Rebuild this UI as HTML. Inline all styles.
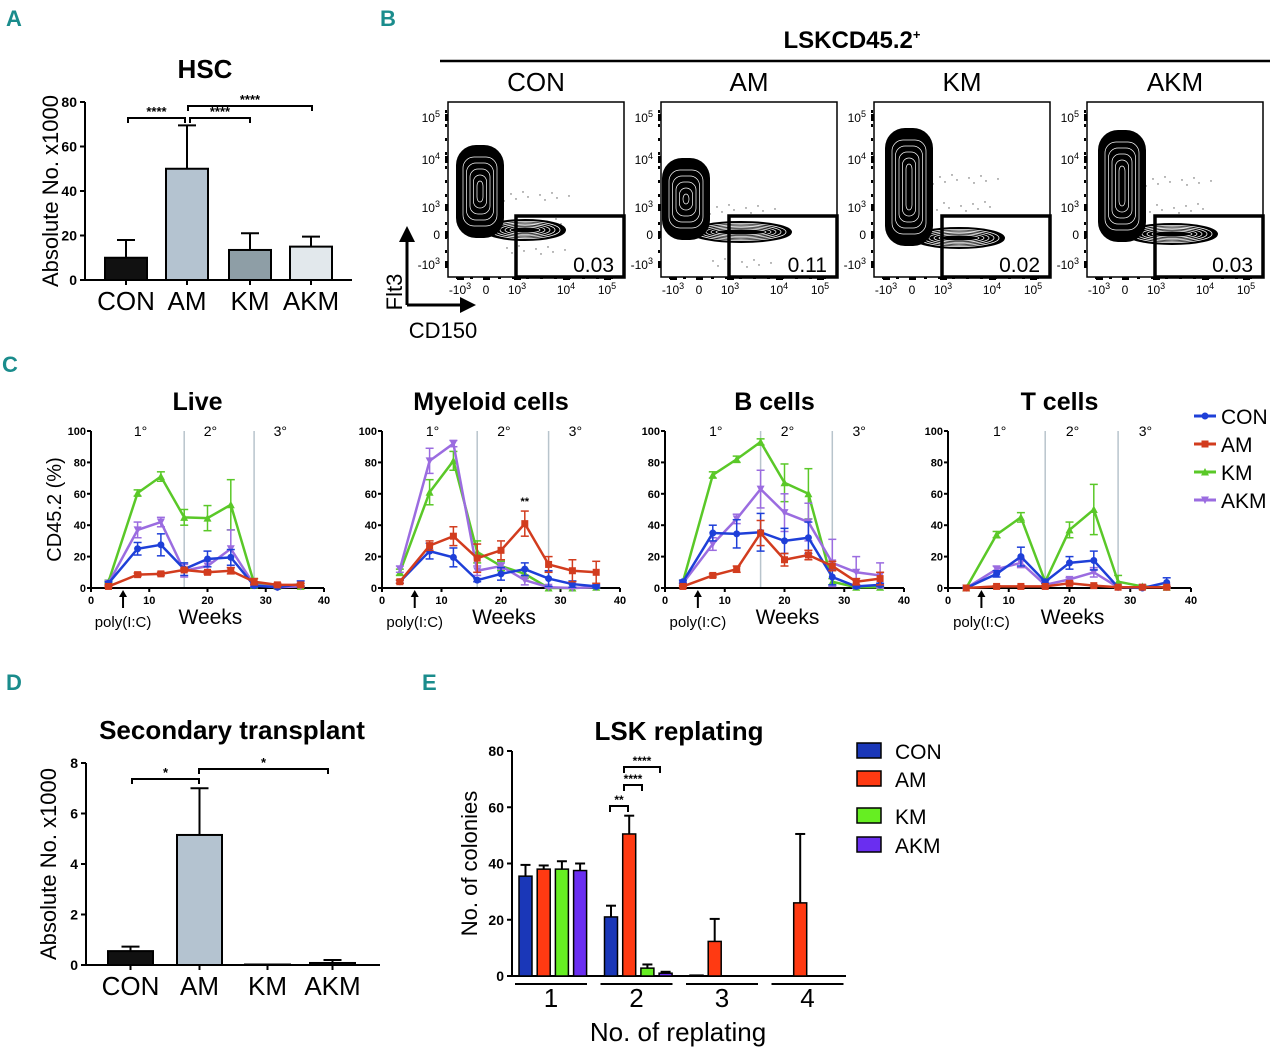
<!DOCTYPE html>
<html><head><meta charset="utf-8"><style>
html,body{margin:0;padding:0;background:#fff;}
svg{display:block;font-family:"Liberation Sans",sans-serif;}
.pl{font-family:"Liberation Sans",sans-serif;font-weight:bold;fill:#1a8c8c;font-size:22px;}
</style></head><body>
<svg id="fig" width="1280" height="1053" viewBox="0 0 1280 1053" xmlns="http://www.w3.org/2000/svg">
<text class="pl" x="6" y="26">A</text>
<text class="pl" x="380" y="26">B</text>
<text class="pl" x="2" y="372">C</text>
<text class="pl" x="6" y="690">D</text>
<text class="pl" x="422" y="690">E</text>
<g id="gA"></g>
<g id="gB"></g>
<g id="gC"></g>
<g id="gD"></g>
<g id="gE"></g>
</svg>
<script>
// ---------- data ----------
const groups = ["CON","AM","KM","AKM"];
const hscValues = [10, 50, 13.5, 15];
const hscErrors = [8, 19.5, 7.5, 4.5];
const hscTicks = [0,20,40,60,80];
const secValues = [0.55, 5.15, 0.02, 0.08];
const secErrors = [0.18, 1.85, 0, 0.12];
const secTicks = [0,2,4,6,8];
const weeks = [3,8,12,16,20,24,28,32,36];
const weekTicks = [0,10,20,30,40];
const pctTicks = [0,20,40,60,80,100];
const liveCON = [3,25,27.5,12,18.5,19.5,1.5,0.5,2.5];
const liveAM  = [1,8.5,9,11.5,10,11,4,2,2];
const liveKM  = [4,60.5,71,45,44.5,53,3,1,1];
const liveAKM = [3,37,42,11,14,25,2,0.5,1];
const liveErr = [[1,4,7,4,5,5,1,0.5,2],[0.5,1,1,1,1,2,2,1,1],[1,2,3,5,8,16,3,1,0.5],[1,5,3,4,3,12,1,0.5,0.5]];
const myeCON = [4,23.5,19.5,5,9,12,6,2.5,1];
const myeAM  = [4,27,33,19,24,41,15,11,10];
const myeKM  = [10,61,81,23,14,9,0,0,0.5];
const myeAKM = [12,81,92,11,14,5,0.5,0,0.5];
const myeErr = [[1,5,6,1,4,4,5,2,1],[1,3,6,9,6,8,5,7,7],[2,8,6,7,3,3,0,0,0.5],[2,8,2,3,2,3,0.5,0,0.5]];
const bCON = [4,35,34.5,35.5,30,32,7,1,2];
const bAM  = [1,8,12,35,18,21,14,4,6];
const bKM  = [4,72,82,93,67,60,4,0.5,0.5];
const bAKM = [3,28,44,63,48,42,16,10,8];
const bErr = [[1,5,9,12,8,10,5,1,1],[0.5,1,2,8,4,3,3,2,4],[1,2,2,2,12,16,2,0.5,0.5],[1,4,3,12,12,12,15,10,8]];
const tCON = [0,9,20,4,16,17.5,0.5,0,3.5];
const tAM  = [0,1,1,1,3,1.5,0.5,0.5,0.5];
const tKM  = [0,34,45,4,37,50,4,1,0.5];
const tAKM = [0,12,16,2,5.5,10,0.5,0.5,0.5];
const tErr = [[0.5,2,6,1,4,6,0.5,0,3],[0,0.5,0.5,0.5,1,0.5,0.5,0.5,0.5],[0,2,3,1,5,16,4,1,0.5],[0,2,3,1,1,3,0.5,0.5,0.5]];
const replatingLabels = ["1","2","3","4"];
const repCON = [35.5, 21, 0.3, 0];
const repAM  = [38, 50.5, 12.3, 26];
const repKM  = [38, 2.8, 0, 0];
const repAKM = [37.5, 1, 0, 0];
const repErrCON = [4,4,0,0];
const repErrAM  = [1.3,6.5,8,24.5];
const repErrKM  = [2.8,1.3,0,0];
const repErrAKM = [2.5,0.5,0,0];
const repTicks = [0,20,40,60,80];
const flowGates = ["0.03","0.11","0.02","0.03"];

// ---------- helpers ----------
const NS="http://www.w3.org/2000/svg";
function mk(parent,tag,attrs,txt){const e=document.createElementNS(NS,tag);for(const k in attrs)e.setAttribute(k,attrs[k]);if(txt!==undefined)e.textContent=txt;parent.appendChild(e);return e;}
function line(p,x1,y1,x2,y2,w,c){return mk(p,'line',{x1,y1,x2,y2,stroke:c||'#000','stroke-width':w||2});}

// ---------- bar chart (A, D) ----------
function barChart(g, cfg){
  const ys=v=>cfg.y0-(v/cfg.max)*(cfg.y0-cfg.yTop);
  line(g,cfg.ax,cfg.yTop,cfg.ax,cfg.y0,2);
  line(g,cfg.ax,cfg.y0,cfg.xEnd,cfg.y0,2);
  cfg.ticks.forEach(t=>{
    line(g,cfg.ax-5,ys(t),cfg.ax,ys(t),2);
    const tl=mk(g,'text',{x:cfg.ax-8,y:ys(t)+5,'text-anchor':'end','font-size':14,'font-weight':'bold'},String(t));
    
    
  });
  cfg.vals.forEach((v,i)=>{
    const x=cfg.bx[i], w=cfg.bw, cx=x+w/2;
    const top=cfg.vals[i]+cfg.errs[i];
    if(cfg.errs[i]>0){line(g,cx,ys(v),cx,ys(top),2);line(g,cx-9,ys(top),cx+9,ys(top),2);}
    const r=mk(g,'rect',{x,y:ys(v),width:w,height:Math.max(0.5,cfg.y0-ys(v)),fill:cfg.colors[i],stroke:'#000','stroke-width':2});
    
    
    line(g,cx,cfg.y0,cx,cfg.y0+5,2);
    const lb=mk(g,'text',{x:cx,y:cfg.y0+30,'text-anchor':'middle','font-size':26},groups[i]);
    
    
  });
  const yt=mk(g,'text',{x:0,y:0,'text-anchor':'middle','font-size':22,transform:`translate(${cfg.ytx},${(cfg.yTop+cfg.y0)/2}) rotate(-90)`},'Absolute No. x1000');
  
  
  const tt=mk(g,'text',{x:cfg.tx,y:cfg.ty,'text-anchor':'middle','font-size':26,'font-weight':'bold'},cfg.title);
  
  
  cfg.brackets.forEach(b=>{
    mk(g,'path',{d:`M${b[0]},${b[2]+5} V${b[2]} H${b[1]} V${b[2]+5}`,fill:'none',stroke:'#000','stroke-width':2});
    const s=mk(g,'text',{x:(b[0]+b[1])/2,y:b[2]-2,'text-anchor':'middle','font-size':13,'font-weight':'bold'},b[3]);
    
    
  });
}
barChart(document.getElementById('gA'),{ax:85,y0:280,yTop:102,max:80,xEnd:352,ticks:hscTicks,vals:hscValues,errs:hscErrors,
  bx:[105,166,229,290],bw:42,colors:['#111','#b4c3d0','#8e9ea6','#e2e8ec'],ytx:58,tx:205,ty:78,title:'HSC',
  brackets:[[128,185,118,'****'],[190,250,118,'****'],[188,312,106,'****']]});
barChart(document.getElementById('gD'),{ax:86,y0:965,yTop:763,max:8,xEnd:380,ticks:secTicks,vals:secValues,errs:secErrors,
  bx:[108,177,245,310],bw:45,colors:['#111','#b4c3d0','#8e9ea6','#e2e8ec'],ytx:56,tx:232,ty:739,title:'Secondary transplant',
  brackets:[[132,199,779,'*'],[199,328,769,'*']]});

// ---------- flow plots (B) ----------
(function(){
  const g=document.getElementById('gB');
  const hd=mk(g,'text',{x:852,y:48,'text-anchor':'middle','font-size':24,'font-weight':'bold'},'LSKCD45.2');
  mk(hd,'tspan',{dy:-9,'font-size':13},'+');
  line(g,440,61,1270,61,2.5);
  const boxes=[448,661,874,1087];
  const shapes=[[32,145,238,80],[25,158,240,100],[35,128,246,90],[35,130,242,90]];
  boxes.forEach((bx,i)=>{
    const pg=mk(g,'g',{});
    
    
    mk(pg,'text',{x:bx+88,y:91,'text-anchor':'middle','font-size':26},groups[i]);
    mk(pg,'rect',{x:bx,y:102,width:176,height:175,fill:'#fff',stroke:'#000','stroke-width':1.5});
    const s=shapes[i];
    for(let k=0;k<30;k++){mk(pg,'circle',{cx:bx+s[0]+20+((k*37)%70),cy:s[1]+30+((k*53)%80),r:0.7,fill:'#555'});}
    // horizontal blob
    const hcx=bx+s[0]+s[3]/2+5;
    for(let k=0;k<6;k++){mk(pg,'ellipse',{cx:hcx,cy:s[2]-8,rx:s[3]/2-k*5,ry:10-k*1.4,fill:k==0?'#000':'none',stroke:k==0?'#000':'#fff','stroke-width':k==0?2:0.8});}
    // vertical blob
    const w=48,h=s[2]-s[1];
    mk(pg,'rect',{x:bx+s[0]-w/2,y:s[1],width:w,height:h,rx:20,fill:'#000'});
    for(let k=2;k<7;k++){mk(pg,'rect',{x:bx+s[0]-w/2+k*3.5,y:s[1]+k*6,width:w-k*7,height:h-k*12,rx:14-k*1.5,fill:'none',stroke:'#fff','stroke-width':0.7});}
    mk(pg,'rect',{x:bx+68,y:216,width:108,height:61,fill:'none',stroke:'#000','stroke-width':3.5});
    const gt=mk(pg,'text',{x:bx+166,y:272,'text-anchor':'end','font-size':21},flowGates[i]);
    
    
    const yl=[['10','5',118],['10','4',160],['10','3',208],['0','',235],['-10','3',265]];
    yl.forEach(t=>{mk(pg,'rect',{x:bx-3,y:t[2]-4,width:3,height:7,fill:'#000'});
      const tx=mk(pg,'text',{x:bx-8,y:t[2]+4,'text-anchor':'end','font-size':12},t[0]); if(t[1])mk(tx,'tspan',{dy:-5,'font-size':9},t[1]);});
    for(let k=0;k<12;k++){mk(pg,'rect',{x:bx-3,y:110+k*14,width:2,height:3,fill:'#000'});}
    const xl=[['-10','3',12],['0','',38],['10','3',69],['10','4',118],['10','5',159]];
    xl.forEach(t=>{mk(pg,'rect',{x:bx+t[2]-3,y:277,width:7,height:3,fill:'#000'});
      const tx=mk(pg,'text',{x:bx+t[2],y:294,'text-anchor':'middle','font-size':12},t[0]); if(t[1])mk(tx,'tspan',{dy:-5,'font-size':9},t[1]);});
    for(let k=0;k<12;k++){mk(pg,'rect',{x:bx+8+k*14,y:277,width:3,height:2,fill:'#000'});}
  });
  mk(g,'path',{d:'M407,305 V240 M407,305 H462',fill:'none',stroke:'#000','stroke-width':3});
  mk(g,'path',{d:'M399,242 L407,226 L415,242 Z M460,297 L476,305 L460,313 Z',fill:'#000'});
  mk(g,'text',{x:0,y:0,'font-size':22,'text-anchor':'middle',transform:'translate(402,292) rotate(-90)'},'Flt3');
  mk(g,'text',{x:443,y:338,'font-size':22,'text-anchor':'middle'},'CD150');
})();

// ---------- line charts (C) ----------
const colorsC=['#1e3fd8','#d23c1e','#5ac828','#9b6ce0'];
function marker(g,x,y,i,c){
  if(i==0) mk(g,'circle',{cx:x,cy:y,r:3.5,fill:c});
  else if(i==1) mk(g,'rect',{x:x-3.5,y:y-3.5,width:7,height:7,fill:c});
  else if(i==2) mk(g,'path',{d:`M${x-4},${y+3.5} L${x},${y-4} L${x+4},${y+3.5} Z`,fill:c});
  else mk(g,'path',{d:`M${x-4},${y-3.5} L${x},${y+4} L${x+4},${y-3.5} Z`,fill:c});
}
function lineChart(g,x0,x1,title,series,errs,showY){
  const yTop=431,yBot=588;
  const xs=w=>x0+(w/40)*(x1-x0), ys=v=>yBot-(v/100)*(yBot-yTop);
  const tt=mk(g,'text',{x:(x0+x1)/2-10,y:410,'text-anchor':'middle','font-size':25,'font-weight':'bold'},title);
  
  
  [16,28].forEach(w=>line(g,xs(w),yTop,xs(w),yBot,1.5,'#b8c4cc'));
  [['1°',8.5],['2°',20.5],['3°',32.5]].forEach(l=>mk(g,'text',{x:xs(l[1]),y:436,'text-anchor':'middle','font-size':14},l[0]));
  line(g,x0,yTop,x0,yBot,2); line(g,x0,yBot,x1,yBot,2);
  pctTicks.forEach(t=>{line(g,x0-4,ys(t),x0,ys(t),2);mk(g,'text',{x:x0-5,y:ys(t)+4,'text-anchor':'end','font-size':11,'font-weight':'bold'},String(t));});
  weekTicks.forEach(t=>{line(g,xs(t),yBot,xs(t),yBot+4,2);mk(g,'text',{x:xs(t),y:yBot+16,'text-anchor':'middle','font-size':11,'font-weight':'bold'},String(t));});
  mk(g,'text',{x:xs(20.5),y:624,'text-anchor':'middle','font-size':21},'Weeks');
  mk(g,'text',{x:xs(5.5),y:627,'text-anchor':'middle','font-size':15},'poly(I:C)');
  mk(g,'path',{d:`M${xs(5.5)},608 V594`,stroke:'#000','stroke-width':2});
  mk(g,'path',{d:`M${xs(5.5)-4},597 L${xs(5.5)},590 L${xs(5.5)+4},597 Z`,fill:'#000'});
  if(showY) mk(g,'text',{x:0,y:0,'text-anchor':'middle','font-size':20,transform:`translate(${x0-30},${(yTop+yBot)/2}) rotate(-90)`},'CD45.2 (%)');
  [2,3,0,1].forEach(i=>{
    const c=colorsC[i], vals=series[i];
    const sg=mk(g,'g',{});
    
    
    mk(sg,'polyline',{points:weeks.map((w,k)=>xs(w)+','+ys(vals[k])).join(' '),fill:'none',stroke:c,'stroke-width':2.5});
    weeks.forEach((w,k)=>{
      const e=errs[i][k];
      if(e>0){const x=xs(w);line(sg,x,ys(vals[k]-e),x,ys(vals[k]+e),1.5,c);line(sg,x-4,ys(vals[k]+e),x+4,ys(vals[k]+e),1.5,c);line(sg,x-4,ys(Math.max(0,vals[k]-e)),x+4,ys(Math.max(0,vals[k]-e)),1.5,c);}
      marker(sg,xs(w),ys(vals[k]),i,c);
    });
  });
}
(function(){
  const g=document.getElementById('gC');
  const mkSub=(name)=>{const s=mk(g,'g',{});return s;};
  lineChart(mkSub('live-chart'),91,324,'Live',[liveCON,liveAM,liveKM,liveAKM],liveErr,true);
  lineChart(mkSub('myeloid-chart'),382,620,'Myeloid cells',[myeCON,myeAM,myeKM,myeAKM],myeErr,false);
  lineChart(mkSub('bcell-chart'),665,904,'B cells',[bCON,bAM,bKM,bAKM],bErr,false);
  lineChart(mkSub('tcell-chart'),948,1191,'T cells',[tCON,tAM,tKM,tAKM],tErr,false);
  const myx=v=>382+(v/40)*238, myy=v=>588-(v/100)*157;
  mk(g,'text',{x:myx(24),y:myy(myeAM[5]+myeErr[1][5])-6,'text-anchor':'middle','font-size':11,'font-weight':'bold'},'**');
  groups.forEach((n,i)=>{
    const y=416+i*28;
    const lg=mk(g,'g',{});
    
    
    line(lg,1194,y,1216,y,3,colorsC[i]);
    marker(lg,1205,y,i,colorsC[i]);
    mk(lg,'text',{x:1221,y:y+8,'font-size':21},n);
  });
})();

// ---------- grouped bars (E) ----------
(function(){
  const g=document.getElementById('gE');
  const ax=512,y0=976,yTop=751;
  const ys=v=>y0-(v/80)*(y0-yTop);
  const colorsE=['#1a37b8','#ff3a12','#66ee22','#6a2ef0'];
  const vals=[repCON,repAM,repKM,repAKM], errs=[repErrCON,repErrAM,repErrKM,repErrAKM];
  const tt=mk(g,'text',{x:679,y:740,'text-anchor':'middle','font-size':26,'font-weight':'bold'},'LSK replating');
  
  
  line(g,ax,yTop,ax,y0,2); line(g,ax,y0,846,y0,2);
  repTicks.forEach(t=>{line(g,ax-5,ys(t),ax,ys(t),2);mk(g,'text',{x:ax-8,y:ys(t)+5,'text-anchor':'end','font-size':14,'font-weight':'bold'},String(t));});
  mk(g,'text',{x:0,y:0,'text-anchor':'middle','font-size':22,transform:`translate(477,${(yTop+y0)/2}) rotate(-90)`},'No. of colonies');
  replatingLabels.forEach((lab,gi)=>{
    const gx=519+gi*85.5;
    line(g,gx-4,984,gx+68,984,2);
    mk(g,'text',{x:gx+32,y:1007,'text-anchor':'middle','font-size':26},lab);
    for(let s=0;s<4;s++){
      const v=vals[s][gi], e=errs[s][gi], x=gx+s*18.2, cx=x+6.5;
      if(v<=0) continue;
      if(e>0){line(g,cx,ys(v),cx,ys(v+e),2);line(g,cx-5,ys(v+e),cx+5,ys(v+e),2);}
      const r=mk(g,'rect',{x,y:ys(v),width:13,height:Math.max(0.8,y0-ys(v)),fill:colorsE[s],stroke:'#000','stroke-width':1.5});
      
      
    }
  });
  mk(g,'text',{x:678,y:1041,'text-anchor':'middle','font-size':26},'No. of replating');
  [[610,628,806,'**'],[624,642,785,'****'],[624,660,767,'****']].forEach(b=>{
    mk(g,'path',{d:`M${b[0]},${b[2]+6} V${b[2]} H${b[1]} V${b[2]+6}`,fill:'none',stroke:'#000','stroke-width':2});
    mk(g,'text',{x:(b[0]+b[1])/2,y:b[2]-2,'text-anchor':'middle','font-size':12,'font-weight':'bold'},b[3]);
  });
  const ly=[751,779,816,845];
  groups.forEach((n,i)=>{
    const lg=mk(g,'g',{});
    
    
    mk(lg,'rect',{x:857,y:ly[i]-8,width:24,height:15,fill:colorsE[i],stroke:'#000','stroke-width':1.5});
    mk(lg,'text',{x:895,y:ly[i]+8,'font-size':21},n);
  });
})();
</script>
</body></html>
